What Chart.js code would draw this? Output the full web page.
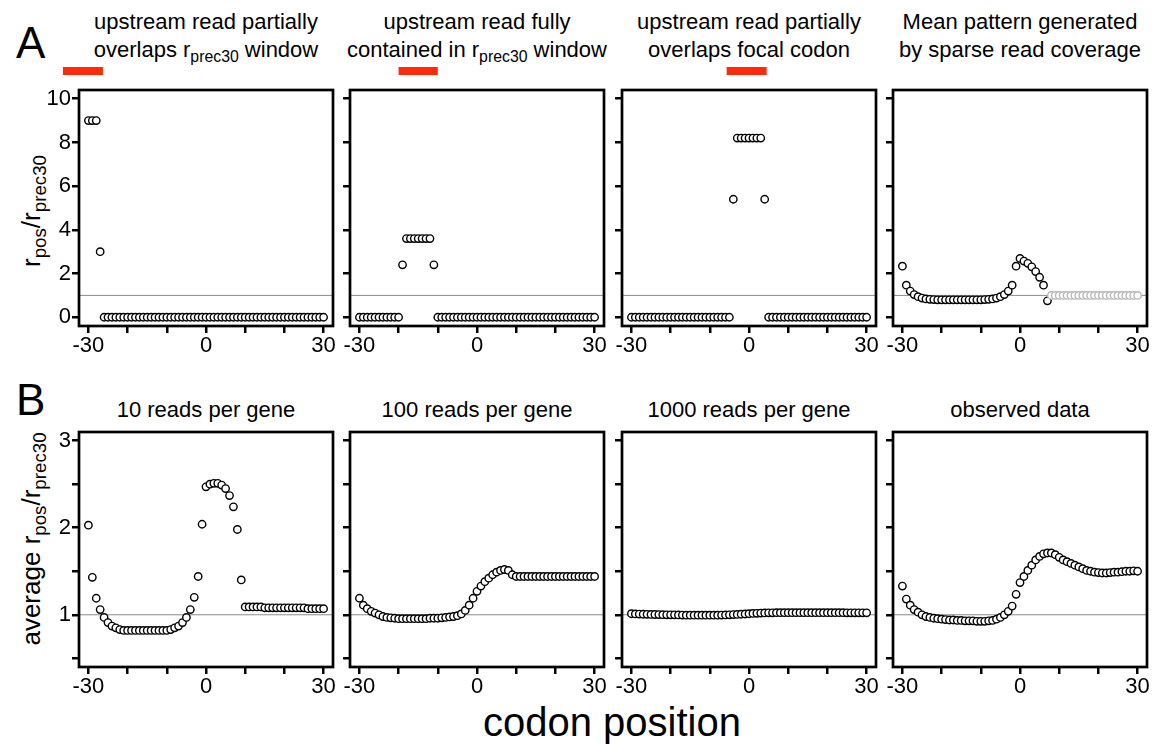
<!DOCTYPE html>
<html><head><meta charset="utf-8">
<script src="https://cdn.jsdelivr.net/npm/chart.js@4.4.1/dist/chart.umd.min.js"></script>
<style>
html,body{margin:0;padding:0;background:#fff;}
body{width:1158px;height:746px;position:relative;overflow:hidden;font-family:"Liberation Sans",Arial,sans-serif;color:#000;}
canvas{position:absolute;}
.t{position:absolute;width:320px;text-align:center;font-size:22px;line-height:28px;white-space:nowrap;}
.t sub,.yl sub{font-size:0.72em;vertical-align:-0.32em;line-height:0;}
.lab{position:absolute;font-size:44px;line-height:44px;}
.yl{position:absolute;width:320px;height:30px;line-height:30px;font-size:26px;text-align:center;white-space:nowrap;transform:rotate(-90deg);}
.xl{position:absolute;width:500px;text-align:center;font-size:40px;line-height:40px;}
</style></head>
<body>
<div class="lab" style="left:16px;top:21px;">A</div>
<div class="lab" style="left:16px;top:378px;">B</div>

<div class="t" style="left:46px;top:8px;">upstream read partially<br>overlaps r<sub>prec30</sub> window</div>
<div class="t" style="left:317px;top:8px;">upstream read fully<br>contained in r<sub>prec30</sub> window</div>
<div class="t" style="left:589px;top:8px;">upstream read partially<br>overlaps focal codon</div>
<div class="t" style="left:860px;top:8px;">Mean pattern generated<br>by sparse read coverage</div>

<div class="t" style="left:46px;top:396px;">10 reads per gene</div>
<div class="t" style="left:317px;top:396px;">100 reads per gene</div>
<div class="t" style="left:589px;top:396px;">1000 reads per gene</div>
<div class="t" style="left:860px;top:396px;">observed data</div>

<div class="yl" style="left:-129px;top:196px;">r<sub>pos</sub>/r<sub>prec30</sub></div>
<div class="yl" style="left:-129px;top:524px;">average r<sub>pos</sub>/r<sub>prec30</sub></div>
<div class="xl" style="left:362px;top:702px;">codon position</div>

<script>
// ---------------- data ----------------
const codons = [-30,-29,-28,-27,-26,-25,-24,-23,-22,-21,
  -20,-19,-18,-17,-16,-15,-14,-13,-12,-11,
  -10,-9,-8,-7,-6,-5,-4,-3,-2,-1,
  0,1,2,3,4,5,6,7,8,9,
  10,11,12,13,14,15,16,17,18,19,
  20,21,22,23,24,25,26,27,28,29,30];

const xTickValues = [-30,-20,-10,0,10,20,30];
const xTickLabels = ['-30','','','0','','','30'];
const yTickValuesA = [0,2,4,6,8,10];
const yTickLabelsA = ['0','2','4','6','8','10'];
const yTickValuesB = [0.5,1,1.5,2,2.5,3];
const yTickLabelsB = ['','1','','2','','3'];

const titlesA = ['upstream read partially / overlaps rprec30 window','upstream read fully / contained in rprec30 window','upstream read partially / overlaps focal codon','Mean pattern generated / by sparse read coverage'];
const titlesB = ['10 reads per gene','100 reads per gene','1000 reads per gene','observed data'];

// upstream read positions (red bars) for the first three A panels
const readStart = [-36.5, -20, -5.7];
const readEnd   = [-26.3, -10, 4.5];

const a1Vals = [9,9,9,3,0,0,0,0,0,0,
  0,0,0,0,0,0,0,0,0,0,
  0,0,0,0,0,0,0,0,0,0,
  0,0,0,0,0,0,0,0,0,0,
  0,0,0,0,0,0,0,0,0,0,
  0,0,0,0,0,0,0,0,0,0,0];

const a2Vals = [0,0,0,0,0,0,0,0,0,0,
  0,2.4,3.6,3.6,3.6,3.6,3.6,3.6,3.6,2.4,
  0,0,0,0,0,0,0,0,0,0,
  0,0,0,0,0,0,0,0,0,0,
  0,0,0,0,0,0,0,0,0,0,
  0,0,0,0,0,0,0,0,0,0,0];

const a3Vals = [0,0,0,0,0,0,0,0,0,0,
  0,0,0,0,0,0,0,0,0,0,
  0,0,0,0,0,0,5.4,8.2,8.2,8.2,
  8.2,8.2,8.2,8.2,5.4,0,0,0,0,0,
  0,0,0,0,0,0,0,0,0,0,
  0,0,0,0,0,0,0,0,0,0,0];

const a4Vals = [2.34,1.47,1.2,1.04,0.94,0.88,0.84,0.82,0.81,0.80,
  0.80,0.80,0.80,0.80,0.80,0.80,0.80,0.80,0.80,0.80,
  0.80,0.81,0.82,0.84,0.88,0.94,1.04,1.2,1.47,2.34,
  2.69,2.57,2.47,2.31,2.09,1.83,1.47,0.75,null,null,
  null,null,null,null,null,null,null,null,null,null,
  null,null,null,null,null,null,null,null,null,null,null];

const a4Gray = [null,null,null,null,null,null,null,null,null,null,
  null,null,null,null,null,null,null,null,null,null,
  null,null,null,null,null,null,null,null,null,null,
  null,null,null,null,null,null,null,null,1,1,
  1,1,1,1,1,1,1,1,1,1,
  1,1,1,1,1,1,1,1,1,1,1];

const b1Vals = [2.03,1.43,1.19,1.06,0.97,0.91,0.87,0.85,0.83,0.82,
  0.82,0.82,0.82,0.82,0.82,0.82,0.82,0.82,0.82,0.82,
  0.82,0.83,0.85,0.87,0.91,0.97,1.06,1.20,1.44,2.04,
  2.47,2.50,2.51,2.51,2.49,2.45,2.37,2.24,1.98,1.40,
  1.09,1.09,1.09,1.09,1.09,1.08,1.08,1.08,1.08,1.08,
  1.08,1.08,1.08,1.08,1.08,1.08,1.07,1.07,1.07,1.07,1.07];

const b2Vals = [1.19,1.11,1.07,1.04,1.02,1.0,0.98,0.97,0.965,0.96,
  0.955,0.955,0.955,0.955,0.955,0.955,0.955,0.955,0.96,0.96,
  0.96,0.965,0.97,0.975,0.98,0.99,1.01,1.05,1.11,1.19,
  1.27,1.33,1.38,1.42,1.46,1.49,1.51,1.52,1.51,1.46,
  1.44,1.44,1.44,1.44,1.44,1.44,1.44,1.44,1.44,1.44,
  1.44,1.44,1.44,1.44,1.44,1.44,1.44,1.44,1.44,1.44,1.44];

const b3Vals = [1.012,1.010,1.008,1.006,1.005,1.004,1.003,1.002,1.001,1.0,
  1.0,0.999,0.998,0.997,0.996,0.995,0.995,0.995,0.995,0.995,
  0.995,0.995,0.996,0.997,0.998,1.0,1.002,1.004,1.006,1.009,
  1.012,1.015,1.017,1.019,1.021,1.022,1.023,1.024,1.024,1.024,
  1.024,1.024,1.024,1.024,1.024,1.024,1.024,1.024,1.024,1.024,
  1.024,1.024,1.024,1.024,1.024,1.023,1.023,1.023,1.023,1.023,1.023];

const b4Vals = [1.33,1.18,1.11,1.06,1.03,1.0,0.98,0.97,0.96,0.955,
  0.95,0.945,0.94,0.94,0.935,0.935,0.93,0.93,0.93,0.925,
  0.925,0.925,0.93,0.935,0.95,0.97,1.0,1.04,1.10,1.235,
  1.37,1.44,1.51,1.57,1.63,1.67,1.70,1.71,1.71,1.69,
  1.66,1.63,1.61,1.59,1.57,1.55,1.53,1.51,1.50,1.49,
  1.485,1.48,1.48,1.485,1.49,1.49,1.495,1.50,1.50,1.505,1.50];

// ---------------- layout / styling ----------------
const FONT = '"Liberation Sans", Arial, sans-serif';
const X_MIN = -32.4, X_MAX = 32.4;
const rowCfg = [
  {top:90, h:236, yMin:-0.4, yMax:10.4, ticks:yTickValuesA, labels:yTickLabelsA, readY:11.27},
  {top:432, h:235, yMin:0.4, yMax:3.1, ticks:yTickValuesB, labels:yTickLabelsB}
];
const colLeft = [79, 350, 622, 893];
const BOX_W = 254;
const PAD_L = 55, PAD_R = 10, PAD_T = 30, PAD_B = 45;

const boxPlugin = {
  id:'box',
  afterDraw(chart){
    const {ctx, chartArea:a} = chart;
    ctx.save();
    ctx.strokeStyle = '#000';
    ctx.lineWidth = 2.7;
    ctx.strokeRect(a.left, a.top, a.right - a.left, a.bottom - a.top);
    ctx.restore();
  }
};

function pts(vals){
  return codons.map((x,i)=>({x:x, y:vals[i]})).filter(p=>p.y!==null);
}
function pointSet(vals, color){
  return {data:pts(vals), pointRadius:3.7, pointBorderWidth:1.4, borderColor:color,
    pointBorderColor:color, pointBackgroundColor:'#fff', backgroundColor:'#fff', showLine:false, order:1};
}

function makePanel(row, col, series, readIdx){
  const rc = rowCfg[row];
  const cv = document.createElement('canvas');
  const w = BOX_W + PAD_L + PAD_R, h = rc.h + PAD_T + PAD_B;
  cv.width = w; cv.height = h;
  cv.style.left = (colLeft[col] - PAD_L) + 'px';
  cv.style.top = (rc.top - PAD_T) + 'px';
  cv.style.width = w + 'px'; cv.style.height = h + 'px';
  document.body.appendChild(cv);

  const datasets = [];
  datasets.push({data:[{x:X_MIN,y:1},{x:X_MAX,y:1}], showLine:true, pointRadius:0,
    borderColor:'#8c8c8c', borderWidth:1, order:3});
  if (readIdx !== null && readIdx !== undefined){
    datasets.push({data:[{x:readStart[readIdx],y:rc.readY},{x:readEnd[readIdx],y:rc.readY}],
      showLine:true, pointRadius:0, borderColor:'#ff2a0a', borderWidth:8,
      borderCapStyle:'butt', clip:false, order:2});
  }
  series.forEach(s=>datasets.push(pointSet(s.vals, s.color)));

  new Chart(cv, {
    type:'scatter',
    data:{datasets},
    options:{
      responsive:false, animation:false, devicePixelRatio:1,
      layout:{padding:{left:0, right:PAD_R, top:PAD_T, bottom:0}},
      plugins:{legend:{display:false}, tooltip:{enabled:false}},
      events:[],
      scales:{
        x:{type:'linear', min:X_MIN, max:X_MAX,
          afterBuildTicks:s=>{s.ticks = xTickValues.map(v=>({value:v}));},
          afterFit:s=>{s.height = PAD_B;},
          ticks:{callback:(v,i)=>xTickLabels[i], color:'#000', font:{family:FONT, size:22}, padding:0, maxRotation:0, autoSkip:false},
          grid:{drawOnChartArea:false, drawTicks:true, color:'#000', lineWidth:2.5, tickLength:7},
          border:{display:false}},
        y:{type:'linear', min:rc.yMin, max:rc.yMax,
          afterBuildTicks:s=>{s.ticks = rc.ticks.map(v=>({value:v}));},
          afterFit:s=>{s.width = PAD_L;},
          ticks:{display: col===0, callback:(v,i)=>rc.labels[i], color:'#000', font:{family:FONT, size:22}, padding:1, autoSkip:false},
          grid:{drawOnChartArea:false, drawTicks:true, color:'#000', lineWidth:2.5, tickLength:7},
          border:{display:false}}
      }
    },
    plugins:[boxPlugin]
  });
}

makePanel(0,0,[{vals:a1Vals,color:'#000'}],0);
makePanel(0,1,[{vals:a2Vals,color:'#000'}],1);
makePanel(0,2,[{vals:a3Vals,color:'#000'}],2);
makePanel(0,3,[{vals:a4Gray,color:'#b8b8b8'},{vals:a4Vals,color:'#000'}],null);
makePanel(1,0,[{vals:b1Vals,color:'#000'}],null);
makePanel(1,1,[{vals:b2Vals,color:'#000'}],null);
makePanel(1,2,[{vals:b3Vals,color:'#000'}],null);
makePanel(1,3,[{vals:b4Vals,color:'#000'}],null);
</script>
</body></html>
